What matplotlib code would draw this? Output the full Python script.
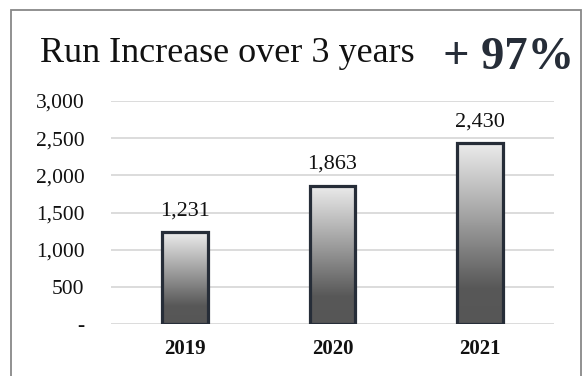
import matplotlib
matplotlib.use("Agg")
import matplotlib.pyplot as plt
import numpy as np
from matplotlib.patches import Rectangle
from matplotlib.colors import LinearSegmentedColormap

years = ["2019", "2020", "2021"]
runs = [1231, 1863, 2430]
yticks = [0, 500, 1000, 1500, 2000, 2500, 3000]
title = "Run Increase over 3 years"
badge = "+ 97%"

W, H = 586, 376
fig = plt.figure(figsize=(W / 100, H / 100), dpi=100)
fig.patch.set_facecolor("white")
serif = ["Liberation Serif", "DejaVu Serif"]

ax = fig.add_axes([111 / W, 1 - 324 / H, (554 - 111) / W, (324 - 101) / H])
ax.set_xlim(-0.5, len(years) - 0.5)
ax.set_ylim(0, 3000)
ax.set_yticks(yticks)
ax.set_yticklabels(["-" if v == 0 else f"{v:,}" for v in yticks],
                   family=serif, fontsize=15.5, color="#111111")
ax.yaxis.grid(True, color="#d9d9d9", linewidth=1.3)
ax.set_axisbelow(True)
for s in ax.spines.values():
    s.set_visible(False)
ax.tick_params(axis="y", length=0, pad=19)
ax.tick_params(axis="x", length=0, pad=11)
x = np.arange(len(years))
ax.set_xticks(x)
ax.set_xticklabels(years, family=serif, fontsize=15, fontweight="bold",
                   color="#111111")

cmap = LinearSegmentedColormap.from_list(
    "g", [(0, "#565656"), (0.2, "#585858"), (0.55, "#9a9a9a"), (1, "#ececec")])
grad = np.linspace(0, 1, 256).reshape(-1, 1)
bw = 0.31
bars = ax.bar(x, runs, width=bw, facecolor="none", edgecolor="#262d38",
              linewidth=2.3, zorder=3)
for b, v in zip(bars, runs):
    im = ax.imshow(grad, cmap=cmap, origin="lower", aspect="auto",
                   extent=[b.get_x(), b.get_x() + bw, 0, v], zorder=2)
    im.set_clip_path(b)
    ax.annotate(f"{v:,}", (b.get_x() + bw / 2, v), xytext=(0, 12),
                textcoords="offset points", ha="center", va="baseline",
                family=serif, fontsize=16, color="#111111")
ax.set_xlim(-0.5, len(years) - 0.5)
ax.set_ylim(0, 3000)

fig.text(227.5 / W, 1 - 62 / H, title, ha="center", va="baseline",
         family=serif, fontsize=26, color="#111111")
fig.text(508.5 / W, 1 - 69 / H, badge, ha="center", va="baseline",
         family=serif, fontsize=33.5, fontweight="bold", color="#262d38")

fig.add_artist(Rectangle((11 / W, -0.05), (581 - 11) / W, 1.05 - 10 / H,
                         transform=fig.transFigure, fill=False,
                         edgecolor="#888888", linewidth=1.3))

fig.savefig("out.png", dpi=100, facecolor="white")
